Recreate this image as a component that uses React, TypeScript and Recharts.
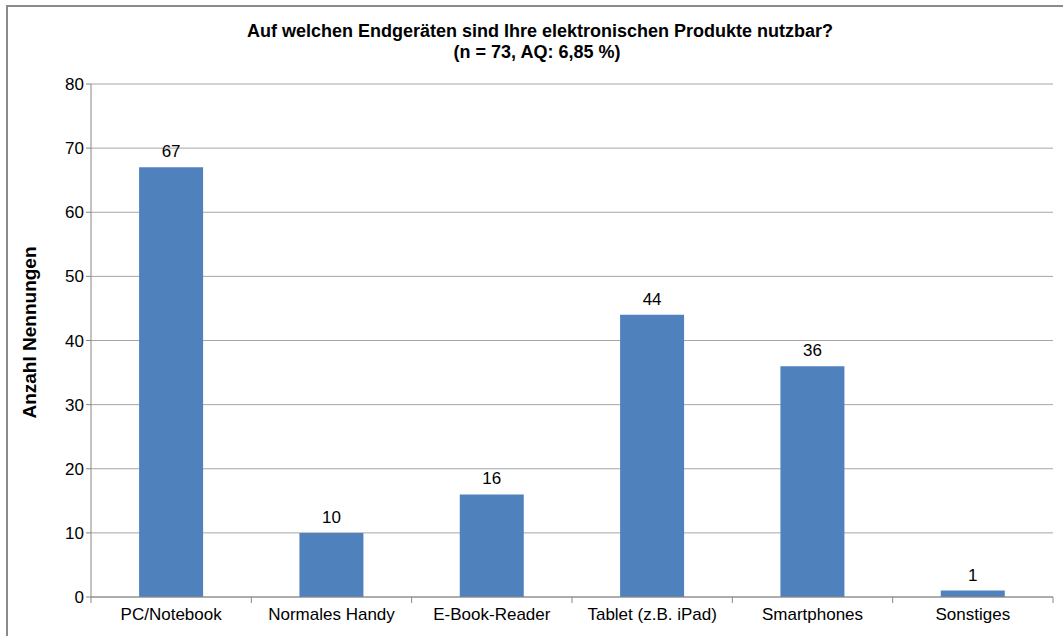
import React from "react";
import { BarChart, Bar, XAxis, YAxis, CartesianGrid, LabelList } from "recharts";

const categories = ["PC/Notebook", "Normales Handy", "E-Book-Reader", "Tablet (z.B. iPad)", "Smartphones", "Sonstiges"];
const counts = [67, 10, 16, 44, 36, 1];
const yTicks = [0, 10, 20, 30, 40, 50, 60, 70, 80];

const data = categories.map((name, i) => ({ name, value: counts[i] }));

const FONT = "'Liberation Sans', Arial, sans-serif";
const AXIS = "#868686";
const PLOT_W = 962;
const BAND = PLOT_W / categories.length;

function CatTick(props: any) {
  const { x, y, payload, index } = props;
  const half = BAND / 2;
  return (
    <g>
      <line x1={x - half} x2={x - half} y1={y - 8} y2={y - 2} stroke={AXIS} />
      {index === categories.length - 1 && (
        <line x1={x + half} x2={x + half} y1={y - 8} y2={y - 2} stroke={AXIS} />
      )}
      <text x={x} y={y + 15} textAnchor="middle" fontSize={17} fill="#000" fontFamily={FONT}>
        {payload.value}
      </text>
    </g>
  );
}

export default function App() {
  return (
    <div style={{ position: "absolute", left: 0, top: 0, width: 1063, height: 636, background: "#fff", overflow: "hidden" }}>
      <div style={{ position: "absolute", left: 6, top: 5, width: 1080, height: 660, border: "2px solid #8a8a8a" }} />
      <div style={{ position: "absolute", left: 0, top: 0, width: 1063, textAlign: "center", fontFamily: FONT, fontWeight: "bold", fontSize: 18, lineHeight: "21px", paddingTop: 21 }}>
        <div style={{ marginLeft: 17 }}>Auf welchen Endgeräten sind Ihre elektronischen Produkte nutzbar?</div>
        <div style={{ marginLeft: 11 }}>(n = 73, AQ: 6,85 %)</div>
      </div>
      <div style={{ position: "absolute", left: 0, top: 0 }}>
        <BarChart width={1063} height={636} data={data} margin={{ top: 84, right: 10, bottom: 0, left: 31 }} barCategoryGap="30%">
          <CartesianGrid vertical={false} stroke="#a6a6a6" />
          <XAxis
            dataKey="name"
            stroke={AXIS}
            tickLine={false}
            tick={<CatTick />}
            height={39}
            interval={0}
          />
          <YAxis
            domain={[0, 80]}
            ticks={yTicks}
            stroke={AXIS}
            tickSize={5}
            width={60}
            tick={{ fill: "#000", fontSize: 17, fontFamily: FONT }}
            label={{
              value: "Anzahl Nennungen",
              angle: -90,
              position: "insideLeft",
              dx: -7,
              dy: -8,
              style: { textAnchor: "middle", fontWeight: "bold", fontSize: 19, fill: "#000", fontFamily: FONT },
            }}
          />
          <Bar dataKey="value" fill="#4F81BD" isAnimationActive={false}>
            <LabelList dataKey="value" position="top" offset={10} fill="#000" fontSize={17} fontFamily={FONT} />
          </Bar>
        </BarChart>
      </div>
    </div>
  );
}
